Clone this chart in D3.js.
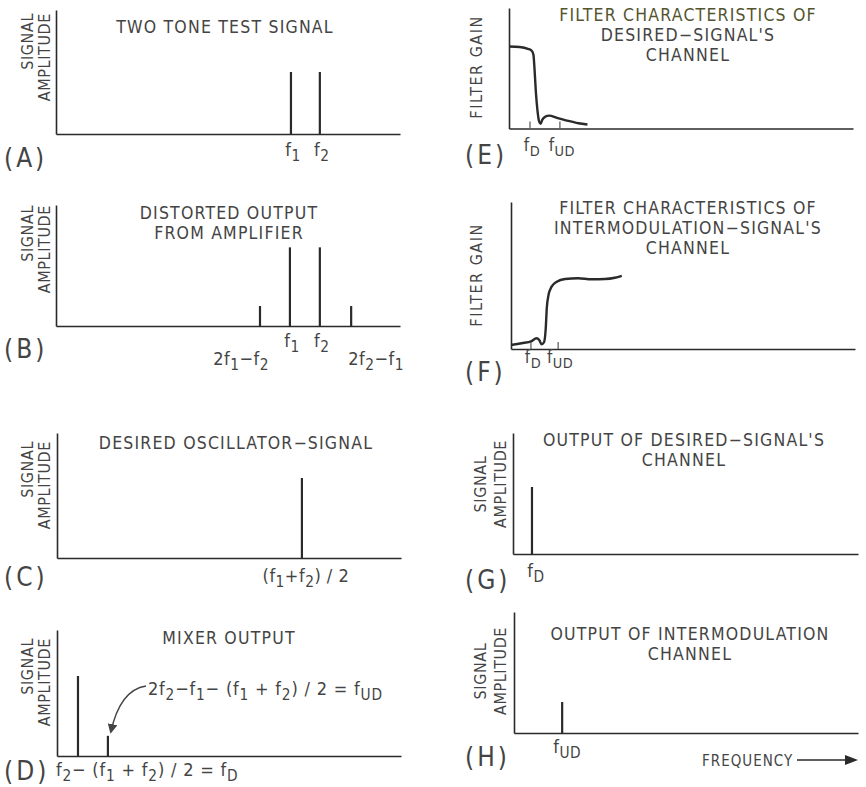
<!DOCTYPE html>
<html><head><meta charset="utf-8">
<script src="https://cdn.jsdelivr.net/npm/d3@7"></script>
<style>
body{margin:0;background:#fff;}
svg{display:block;}
text{font-family:"Liberation Sans Narrow","DejaVu Sans Condensed","Roboto Condensed","Noto Sans",sans-serif;fill:#444;}
</style></head><body>
<svg id="c" width="866" height="787"></svg>
<script>
// ---------------- DATA ----------------
const panelIds = ["A","B","C","D","E","F","G","H"];

// spectral lines (frequency in 0..100 of axis span, amplitude 0..1 of axis height)
const aFreq = [68.3, 76.7];
const aAmp  = [0.50, 0.50];
const aLabels = ["f{1}", "f{2}"];

const bFreq = [59.3, 68.0, 76.7, 85.8];
const bAmp  = [0.165, 0.65, 0.65, 0.165];
const bLabels = ["2f{1}−f{2}", "f{1}", "f{2}", "2f{2}−f{1}"];

const cFreq = [71.2];
const cAmp  = [0.64];
const cLabels = ["(f{1}+f{2}) / 2"];

const dFreq = [6.1, 14.8];
const dAmp  = [0.635, 0.16];

const gFreq = [5.5];
const gAmp  = [0.554];
const gLabels = ["f{D}"];

const hFreq = [14.0];
const hAmp  = [0.256];
const hLabels = ["f{UD}"];

// filter curves
const eCurveFreq = [0, 3.1, 5.5, 6.6, 7.1, 7.4, 7.8, 8.3, 8.8, 9.2, 9.7, 10.5, 11.7, 13.9, 16.8, 20.2, 22.8];
const eCurveGain = [0.680, 0.676, 0.661, 0.645, 0.612, 0.504, 0.308, 0.143, 0.055, 0.039, 0.074, 0.097, 0.107, 0.088, 0.066, 0.044, 0.033];
const eTicks = [6.1, 14.8];
const eTickLabels = ["f{D}", "f{UD}"];

const fCurveFreq = [0, 3.1, 6.0, 7.4, 8.2, 8.9, 9.6, 10.1, 10.4, 10.9, 11.8, 13.3, 15.7, 19.5, 23.4, 27.3, 30.2, 32.2];
const fCurveGain = [0.027, 0.039, 0.054, 0.073, 0.061, 0.032, 0.046, 0.141, 0.277, 0.367, 0.424, 0.458, 0.476, 0.481, 0.474, 0.476, 0.485, 0.498];
const fTicks = [5.8, 13.7];
const fTickLabels = ["f{D}", "f{UD}"];

// texts
const titleA = ["TWO TONE TEST SIGNAL"];
const titleB = ["DISTORTED OUTPUT", "FROM AMPLIFIER"];
const titleC = ["DESIRED OSCILLATOR−SIGNAL"];
const titleD = ["MIXER OUTPUT"];
const titleE = ["FILTER CHARACTERISTICS OF", "DESIRED−SIGNAL'S", "CHANNEL"];
const titleF = ["FILTER CHARACTERISTICS OF", "INTERMODULATION−SIGNAL'S", "CHANNEL"];
const titleG = ["OUTPUT OF DESIRED−SIGNAL'S", "CHANNEL"];
const titleH = ["OUTPUT OF INTERMODULATION", "CHANNEL"];
const ampLabel = ["SIGNAL", "AMPLITUDE"];
const gainLabel = ["FILTER GAIN"];
const mixerUpper = "2f{2}−f{1}− (f{1} + f{2}) / 2 = f{UD}";
const mixerLower = "f{2}− (f{1} + f{2}) / 2 = f{D}";
const freqLabel = "FREQUENCY";

// ---------------- LAYOUT ----------------
const W = 344;
const layout = {
  A:{x0:56, y0:134, top:10, w:W, letter:[4,167], tx:225, ty:33, yl:"amp", ylTop:13,
     freq:aFreq, amp:aAmp, labels:aLabels, ldy:[22,22], lanchor:["middle","middle"], ldx:[2,2], title:titleA},
  B:{x0:56, y0:326, top:205, w:W, letter:[4,358], tx:229, ty:219, yl:"amp", ylTop:205,
     freq:bFreq, amp:bAmp, labels:bLabels, ldy:[39,21,21,39], lanchor:["end","middle","middle","start"], ldx:[9,2,2,-3], title:titleB},
  C:{x0:57, y0:558, top:433, w:W, letter:[4,586], tx:236, ty:449, yl:"amp", ylTop:441,
     freq:cFreq, amp:cAmp, labels:cLabels, ldy:[24], lanchor:["middle"], ldx:[4], title:titleC},
  D:{x0:57, y0:756, top:630, w:W, letter:[4,780], tx:229, ty:644, yl:"amp", ylTop:638,
     freq:dFreq, amp:dAmp, labels:null, title:titleD},
  E:{x0:509, y0:128.5, top:8, w:W, letter:[465,164], tx:688, ty:21, yl:"gain", ylMid:67,
     curveF:eCurveFreq, curveG:eCurveGain, ticks:eTicks, tickLabels:eTickLabels, tdy:22, title:titleE},
  F:{x0:511, y0:349, top:202, w:W, letter:[465,381], tx:688, ty:214, yl:"gain", ylMid:275,
     curveF:fCurveFreq, curveG:fCurveGain, ticks:fTicks, tickLabels:fTickLabels, tdy:14, title:titleF},
  G:{x0:513, y0:554, top:433, w:W+1, letter:[465,589], tx:684, ty:446, yl:"ampMid", ylMid:484,
     freq:gFreq, amp:gAmp, labels:gLabels, ldy:[23], lanchor:["middle"], ldx:[4], title:titleG},
  H:{x0:514, y0:733, top:612, w:W, letter:[465,766], tx:690, ty:640, yl:"ampMid", ylMid:671,
     freq:hFreq, amp:hAmp, labels:hLabels, ldy:[20], lanchor:["middle"], ldx:[5], title:titleH}
};

// ---------------- HELPERS ----------------
const svg = d3.select("#c");
const INK = "#2a2a2a";

function rich(textSel, str, subScale) {
  const re = /([^{]+)|\{([^}]*)\}/g;
  let m, inSub = false;
  while ((m = re.exec(str)) !== null) {
    if (m[1] !== undefined) {
      const t = textSel.append("tspan").text(m[1]);
      if (inSub) { t.attr("dy", -5); inSub = false; }
    } else {
      const t = textSel.append("tspan").text(m[2]).attr("font-size", (subScale || 0.85) + "em");
      if (!inSub) t.attr("dy", 5);
      inSub = true;
    }
  }
}

panelIds.forEach(id => {
  const p = layout[id];
  const g = svg.append("g");
  const x = d3.scaleLinear().domain([0, 100]).range([p.x0, p.x0 + p.w]);
  const y = d3.scaleLinear().domain([0, 1]).range([p.y0, p.top]);

  // axes (no ticks) via d3 axes
  const xAxis = d3.axisBottom(x).tickValues([]).tickSizeOuter(0);
  const yAxis = d3.axisLeft(y).tickValues([]).tickSizeOuter(0);
  const gx = g.append("g").attr("transform", `translate(0,${p.y0})`).call(xAxis);
  const gy = g.append("g").attr("transform", `translate(${p.x0},0)`).call(yAxis);
  [gx, gy].forEach(a => a.select(".domain").attr("stroke", INK).attr("stroke-width", 1.6));

  // title
  const tt = g.append("text").attr("x", p.tx).attr("y", p.ty)
    .attr("text-anchor", "middle").attr("font-size", 17.5).attr("letter-spacing", "1.2px");
  p.title.forEach((line, i) => {
    tt.append("tspan").attr("x", p.tx).attr("dy", i === 0 ? 0 : 20).text(line)
      .attr("fill", id === "E" && i === 0 ? "#54542f" : "#444");
  });

  // panel letter
  g.append("text").attr("x", p.letter[0]).attr("y", p.letter[1])
    .attr("font-size", 26).attr("letter-spacing", "3px").attr("fill", "#222")
    .text("(" + id + ")");

  // y label
  if (p.yl === "amp") {
    [[33, ampLabel[0]], [50, ampLabel[1]]].forEach(([bx, s]) => {
      g.append("text").attr("transform", `translate(${bx},${p.ylTop}) rotate(-90)`)
        .attr("text-anchor", "end").attr("font-size", 16).attr("letter-spacing", "0.6px").text(s);
    });
  } else if (p.yl === "ampMid") {
    [[486, ampLabel[0]], [506, ampLabel[1]]].forEach(([bx, s]) => {
      g.append("text").attr("transform", `translate(${bx},${p.ylMid}) rotate(-90)`)
        .attr("text-anchor", "middle").attr("font-size", 16).attr("letter-spacing", "0.6px").text(s);
    });
  } else {
    g.append("text").attr("transform", `translate(482,${p.ylMid}) rotate(-90)`)
      .attr("text-anchor", "middle").attr("font-size", 16).attr("letter-spacing", "1.5px").text(gainLabel[0]);
  }

  // spectral lines
  if (p.freq) {
    const data = p.freq.map((f, i) => ({f, a: p.amp[i], i}));
    g.selectAll("line.bar").data(data).join("line").attr("class", "bar")
      .attr("x1", d => x(d.f)).attr("x2", d => x(d.f))
      .attr("y1", y(0)).attr("y2", d => y(d.a))
      .attr("stroke", INK).attr("stroke-width", 2.2);
    if (p.labels) {
      data.forEach(d => {
        const t = g.append("text").attr("x", x(d.f) + p.ldx[d.i]).attr("y", y(0) + p.ldy[d.i])
          .attr("text-anchor", p.lanchor[d.i]).attr("font-size", 18).attr("letter-spacing", "0.5px");
        rich(t, p.labels[d.i]);
      });
    }
  }

  // filter curves
  if (p.curveF) {
    const pts = p.curveF.map((f, i) => [f, p.curveG[i]]);
    const line = d3.line().x(d => x(d[0])).y(d => y(d[1])).curve(d3.curveMonotoneX);
    g.append("path").attr("d", line(pts)).attr("fill", "none")
      .attr("stroke", INK).attr("stroke-width", 2.4).attr("stroke-linejoin", "round");
    p.ticks.forEach((tk, i) => {
      g.append("line").attr("x1", x(tk)).attr("x2", x(tk)).attr("y1", y(0)).attr("y2", y(0) - 7)
        .attr("stroke", "#555").attr("stroke-width", 1.2);
      const t = g.append("text").attr("x", x(tk) + 2).attr("y", y(0) + p.tdy)
        .attr("text-anchor", "middle").attr("font-size", 17).attr("letter-spacing", "0.5px");
      rich(t, p.tickLabels[i]);
    });
  }

  // mixer annotations
  if (id === "D") {
    const t1 = g.append("text").attr("x", 148).attr("y", 695).attr("font-size", 18).attr("letter-spacing", "0.8px");
    rich(t1, mixerUpper);
    const t2 = g.append("text").attr("x", 56).attr("y", 776).attr("font-size", 18).attr("letter-spacing", "0.8px");
    rich(t2, mixerLower);
    const ex = x(dFreq[1]) + 3, ey = y(dAmp[1]) - 4;
    svg.append("defs").append("marker").attr("id", "ah").attr("viewBox", "0 0 10 10")
      .attr("refX", 8).attr("refY", 5).attr("markerWidth", 7).attr("markerHeight", 7)
      .attr("orient", "auto").append("path").attr("d", "M0,0 L10,5 L0,10 z").attr("fill", "#444");
    const pth = d3.path();
    pth.moveTo(146, 686);
    pth.quadraticCurveTo(120, 690, ex, ey);
    g.append("path").attr("d", pth.toString()).attr("fill", "none").attr("stroke", "#444")
      .attr("stroke-width", 1.4).attr("marker-end", "url(#ah)");
  }

  // frequency arrow
  if (id === "H") {
    g.append("text").attr("x", 702).attr("y", 766).attr("font-size", 15).attr("letter-spacing", "1px").text(freqLabel);
    g.append("line").attr("x1", 797).attr("x2", 847).attr("y1", 760).attr("y2", 760)
      .attr("stroke", INK).attr("stroke-width", 1.5);
    g.append("path").attr("d", "M845,755 L858,760 L845,765 Z").attr("fill", INK);
  }
});
</script>
</body></html>
